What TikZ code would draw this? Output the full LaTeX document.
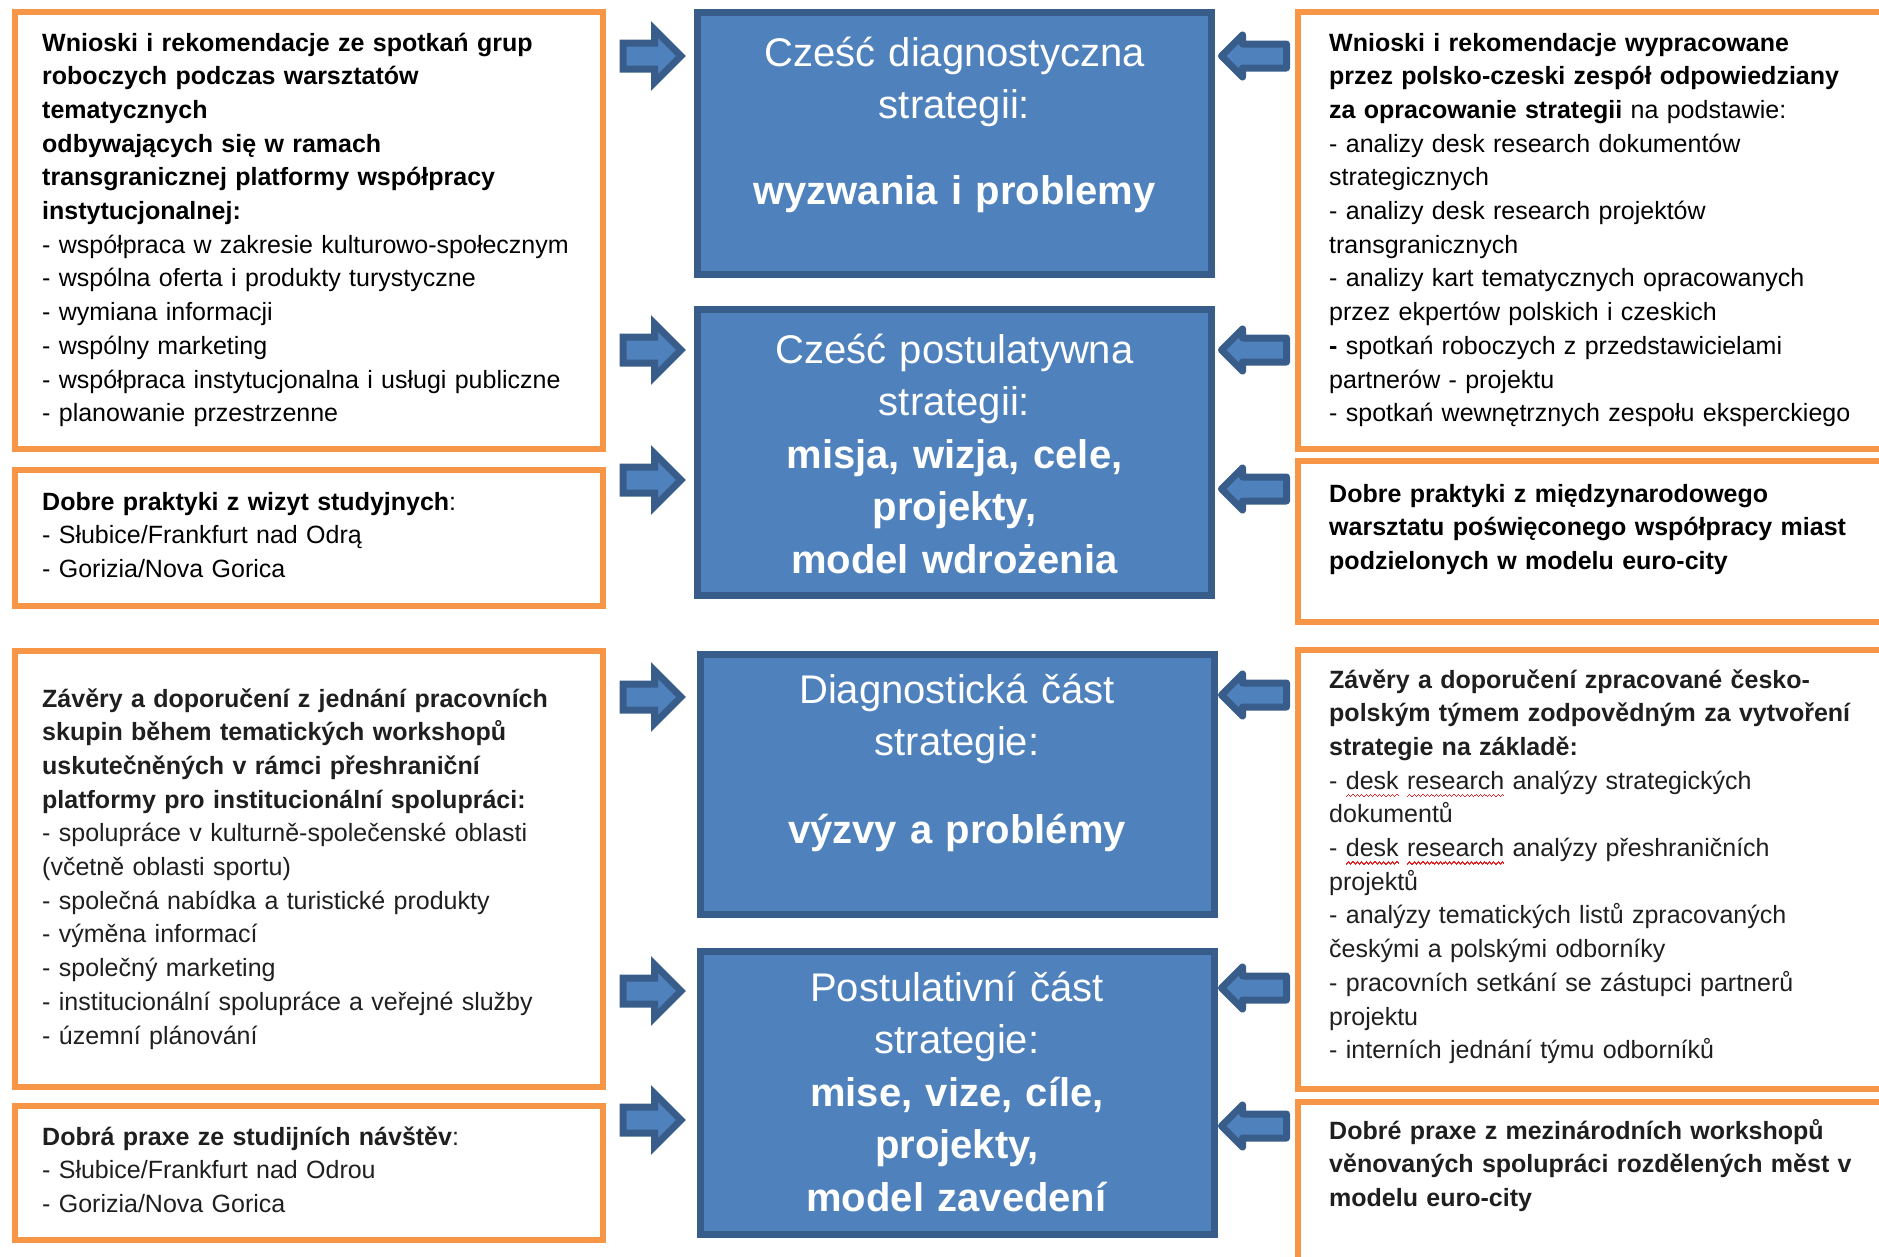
\documentclass[tikz,border=0pt]{standalone}
\usepackage{fontspec}
\setmainfont{Liberation Sans}
\usepackage{tikz}
\usetikzlibrary{shapes.arrows}

\definecolor{boxorange}{RGB}{247,150,70}
\definecolor{boxblue}{RGB}{79,129,189}
\definecolor{boxline}{RGB}{56,93,138}
\definecolor{spellred}{RGB}{225,35,35}

\newcommand\spellwave[1]{\setbox0\hbox{#1}\rlap{\color{spellred}\hbox to \wd0{\xleaders\hbox{%
	\rule[-8pt]{1.1pt}{1.4pt}\rule[-7pt]{1.1pt}{1.4pt}\rule[-6pt]{1.1pt}{1.4pt}\rule[-7pt]{1.1pt}{1.4pt}}\hfill}}\box0\relax}

\begin{document}
\begin{tikzpicture}[x=1pt, y=-1pt,
	obox/.style={draw=boxorange, line width=6pt, fill=white},
	bbox/.style={draw=boxline, line width=7pt, fill=boxblue, minimum width=514pt},
	otext/.style={anchor=base west, inner sep=0pt, text width=560pt, align=left,
	              font=\fontsize{25}{33.7}\selectfont},
	btext/.style={anchor=base, inner sep=0pt, text width=510pt, align=center, text=white,
	              font=\fontsize{40}{52.5}\selectfont},
	rarrow/.style={single arrow, anchor=tail, draw=boxline, fill=boxblue, line width=7pt,
	               inner sep=9.5pt, minimum height=58pt, minimum width=46pt,
	               single arrow head extend=13.5pt},
	larrow/.style={single arrow, shape border rotate=180, anchor=tail, draw=boxline,
	               fill=boxblue, line width=7pt, line join=round, inner sep=8.5pt,
	               minimum height=65pt, minimum width=35pt, single arrow head extend=9pt}]

	\path[use as bounding box] (0,0) rectangle (1879,1256);
	\clip (0,0) rectangle (1879,1256);

	\node[obox, minimum width=588.5pt, minimum height=437pt] (pl1) at (308.75,230.5) {};
	\node[obox, minimum width=588.5pt, minimum height=136pt] (pl2) at (308.75,538)   {};
	\node[obox, minimum width=588.5pt, minimum height=436pt] (cz1) at (308.75,869)   {};
	\node[obox, minimum width=588.5pt, minimum height=134pt] (cz2) at (308.75,1173)  {};
	\node[obox, minimum width=602pt,   minimum height=437pt] (pr1) at (1599,230.5)   {};
	\node[obox, minimum width=602pt,   minimum height=161pt] (pr2) at (1599,541.5)   {};
	\node[obox, minimum width=602pt,   minimum height=439pt] (cr1) at (1599,869.5)   {};
	\node[obox, minimum width=602pt,   minimum height=178pt] (cr2) at (1599,1191)    {};

	\node[bbox, minimum height=262pt] (d1) at (954.5,143.5) {};
	\node[bbox, minimum height=286pt] (d2) at (954.5,452.5) {};
	\node[bbox, minimum height=260pt] (d3) at (957,784.5)   {};
	\node[bbox, minimum height=283pt] (d4) at (957,1093)    {};

	\node[rarrow] (al1) at (619.5,56)   {};
	\node[rarrow] (al2) at (619.5,350)  {};
	\node[rarrow] (al3) at (619.5,480)  {};
	\node[rarrow] (al4) at (619.5,697)  {};
	\node[rarrow] (al5) at (619.5,991)  {};
	\node[rarrow] (al6) at (619.5,1120) {};
	\node[larrow] (ar1) at (1290,56)   {};
	\node[larrow] (ar2) at (1290,350)  {};
	\node[larrow] (ar3) at (1290,489)  {};
	\node[larrow] (ar4) at (1290,695)  {};
	\node[larrow] (ar5) at (1290,988)  {};
	\node[larrow] (ar6) at (1290,1126) {};

	\node[btext] (d1t) at (d1 |- 0,66) {Cześć diagnostyczna\\ strategii:\\[33pt]
		\textbf{wyzwania i problemy}};
	\node[btext] (d2t) at (d2 |- 0,363) {Cześć postulatywna\\ strategii:\\
		\textbf{misja, wizja, cele,}\\ \textbf{projekty,}\\ \textbf{model wdrożenia}};
	\node[btext] (d3t) at (d3 |- 0,703) {Diagnostická část\\ strategie:\\[35pt]
		\textbf{výzvy a problémy}};
	\node[btext] (d4t) at (d4 |- 0,1001) {Postulativní část\\ strategie:\\
		\textbf{mise, vize, cíle,}\\ \textbf{projekty,}\\ \textbf{model zavedení}};

	\node[otext] (pl1t) at (42,51) {{\bfseries Wnioski i rekomendacje ze spotkań grup\\
		roboczych podczas warsztatów\\ tematycznych\\ odbywających się w ramach\\
		transgranicznej platformy współpracy\\ instytucjonalnej:}\\
		- współpraca w zakresie kulturowo-społecznym\\
		- wspólna oferta i produkty turystyczne\\
		- wymiana informacji\\
		- wspólny marketing\\
		- współpraca instytucjonalna i usługi publiczne\\
		- planowanie przestrzenne};
	\node[otext] (pl2t) at (42,510) {\textbf{Dobre praktyki z wizyt studyjnych}:\\
		- Słubice/Frankfurt nad Odrą\\
		- Gorizia/Nova Gorica};
	\node[otext] (pr1t) at (1329,51) {{\bfseries Wnioski i rekomendacje wypracowane\\
		przez polsko-czeski zespół odpowiedziany\\ za opracowanie strategii} na podstawie:\\
		- analizy desk research dokumentów\\ strategicznych\\
		- analizy desk research projektów\\ transgranicznych\\
		- analizy kart tematycznych opracowanych\\ przez ekpertów polskich i czeskich\\
		\textbf{-} spotkań roboczych z przedstawicielami\\ partnerów - projektu\\
		- spotkań wewnętrznych zespołu eksperckiego};
	\node[otext] (pr2t) at (1329,502) {\bfseries Dobre praktyki z międzynarodowego\\
		warsztatu poświęconego współpracy miast\\ podzielonych w modelu euro-city};

	\node[otext, text=black!88] (cz1t) at (42,707) {{\bfseries Závěry a doporučení z jednání pracovních\\
		skupin během tematických workshopů\\ uskutečněných v rámci přeshraniční\\
		platformy pro institucionální spolupráci:}\\
		- spolupráce v kulturně-společenské oblasti\\ (včetně oblasti sportu)\\
		- společná nabídka a turistické produkty\\
		- výměna informací\\
		- společný marketing\\
		- institucionální spolupráce a veřejné služby\\
		- územní plánování};
	\node[otext, text=black!88] (cz2t) at (42,1145) {\textbf{Dobrá praxe ze studijních návštěv}:\\
		- Słubice/Frankfurt nad Odrou\\
		- Gorizia/Nova Gorica};
	\node[otext, text=black!88] (cr1t) at (1329,688) {{\bfseries Závěry a doporučení zpracované česko-\\
		polským týmem zodpovědným za vytvoření\\ strategie na základě:}\\
		- \spellwave{desk} \spellwave{research} analýzy strategických\\ dokumentů\\
		- \spellwave{desk} \spellwave{research} analýzy přeshraničních\\ projektů\\
		- analýzy tematických listů zpracovaných\\ českými a polskými odborníky\\
		- pracovních setkání se zástupci partnerů\\ projektu\\
		- interních jednání týmu odborníků};
	\node[otext, text=black!88] (cr2t) at (1329,1139) {\bfseries Dobré praxe z mezinárodních workshopů\\
		věnovaných spolupráci rozdělených měst v\\ modelu euro-city};
\end{tikzpicture}
\end{document}
